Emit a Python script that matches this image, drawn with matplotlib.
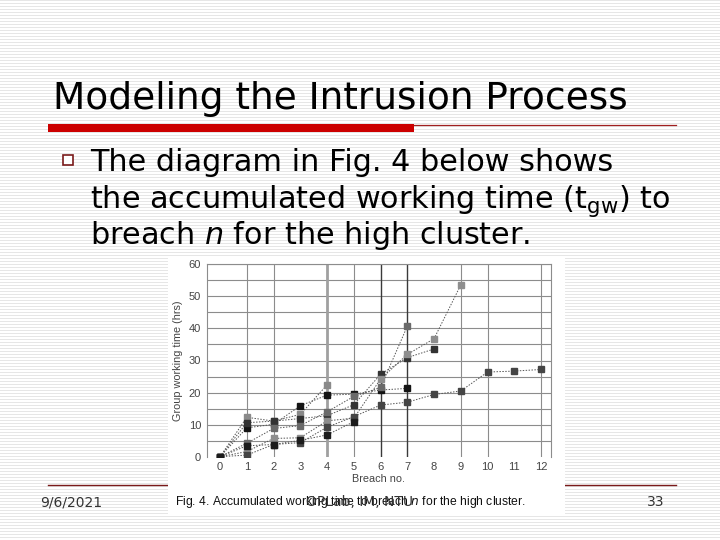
import numpy as np
import matplotlib
matplotlib.use("Agg")
import matplotlib.pyplot as plt
from matplotlib.patches import Rectangle

# ---------------- data ----------------
breach_ticks = list(range(0, 13))
y_ticks = [0, 10, 20, 30, 40, 50, 60]

s1 = [0, 9.0, 10.1, 15.9, 19.2, 19.5, 20.8, 21.3]
s2 = [0, 12.3, 11.1, 13.2, 22.4]
s3 = [0, 10.6, 11.1, 11.9, 12.8, 16.2, 25.7, 30.9, 33.6]
s4 = [0, 4.2, 8.8, 9.7, 14.0, 18.8, 21.6, 40.7]
s5 = [0, 1.6, 5.7, 5.9, 11.2, 12.0, 24.2, 31.9, 36.8, 53.6]
s6 = [0, 0.5, 3.8, 4.4, 9.2, 12.5, 16.1, 17.0, 19.4, 20.5, 26.4, 26.7, 27.2]
s7 = [0, 3.4, 3.8, 5.1, 6.8, 10.9]
series = [s1, s2, s3, s4, s5, s6, s7]
marker_colors = ["#141414", "#8a8a8a", "#333333", "#6a6a6a", "#8e8e8e", "#454545", "#1c1c1c"]

title = "Modeling the Intrusion Process"
bullet_lines = ["The diagram in Fig. 4 below shows",
                "the accumulated working time (t$_{\\mathrm{gw}}$) to",
                "breach $n$ for the high cluster."]
caption = "Fig. 4. Accumulated working time to breach $n$ for the high cluster."
footer_date = "9/6/2021"
footer_center = "OPLab, IM, NTU"
footer_page = "33"

# ---------------- figure ----------------
W, H = 720, 540
fig = plt.figure(figsize=(7.2, 5.4), dpi=100)
bg = fig.add_axes([0, 0, 1, 1])
bg.set_xlim(0, W)
bg.set_ylim(H, 0)
bg.axis("off")

# striped slide background
stripes = np.ones((H, W))
stripes[::3, :] = 0.9
bg.imshow(stripes, cmap="gray", vmin=0, vmax=1, extent=(0, W, H, 0),
          interpolation="nearest", aspect="auto", zorder=0)

# title and red rule
bg.text(53, 109, title, fontsize=27, family="DejaVu Sans", color="black",
        va="baseline", ha="left", zorder=3)
bg.add_patch(Rectangle((48, 124), 366, 7.5, facecolor="#cc0000", edgecolor="none", zorder=2))
bg.plot([414, 676], [124.5, 124.5], color="#a02020", lw=0.9, zorder=2)

# bullet
bg.add_patch(Rectangle((63, 155), 10, 10, facecolor="white", edgecolor="#7a1a1a", lw=1.2, zorder=3))
for i, line in enumerate(bullet_lines):
    bg.text(90, 171 + i * 36.5, line, fontsize=21.8, family="DejaVu Sans",
            color="black", va="baseline", ha="left", zorder=3)

# footer rule (partly hidden by the figure)
bg.plot([48, 676], [485, 485], color="#7a1a1a", lw=1.0, zorder=2)

# white figure box
bg.add_patch(Rectangle((168, 257), 397, 259, facecolor="white", edgecolor="none", zorder=4))

# caption + footer
bg.text(175, 502, caption, fontsize=8.7, family="Liberation Sans", color="#111111",
        va="center", ha="left", zorder=5)
bg.text(40, 502, footer_date, fontsize=10, family="DejaVu Sans", color="#333333",
        va="center", ha="left", zorder=5)
bg.text(360, 502, footer_center, fontsize=10, family="DejaVu Sans", color="#333333",
        va="center", ha="center", zorder=5)
bg.text(664, 502, footer_page, fontsize=10, family="DejaVu Sans", color="#333333",
        va="center", ha="right", zorder=5)

# ---------------- chart ----------------
ax = fig.add_axes([206.7 / W, 1 - 456.7 / H, (550.7 - 206.7) / W, (456.7 - 264.3) / H])
ax.set_zorder(6)
ax.patch.set_alpha(0)
ax.set_xlim(-0.5, 12.36)
ax.set_ylim(0, 60)

# grid (as in the scanned figure)
for yv in range(5, 61, 5):
    ax.axhline(yv, color="#8c8c8c", lw=0.8, zorder=1)
vgrid = {1: ("#8c8c8c", 0.8), 2: ("#8c8c8c", 0.8), 4: ("#a0a0a0", 2.0), 5: ("#8c8c8c", 0.8),
         6: ("#3a3a3a", 1.0), 7: ("#3a3a3a", 1.0), 9: ("#8c8c8c", 0.8), 10: ("#8c8c8c", 0.8),
         12: ("#8c8c8c", 0.8)}
for xv, (c, lw) in vgrid.items():
    ax.axvline(xv, color=c, lw=lw, zorder=1)

for vals, mc in zip(series, marker_colors):
    xs = list(range(len(vals)))
    ax.plot(xs, vals, color="#555555", lw=0.7, ls=(0, (1.5, 1.5)), zorder=2)
    ax.plot(xs, vals, ls="none", marker="s", markersize=3.8, markerfacecolor=mc,
            markeredgecolor=mc, zorder=3)

for side in ["top", "right", "left"]:
    ax.spines[side].set_color("#8c8c8c")
    ax.spines[side].set_linewidth(0.8)
ax.spines["bottom"].set_visible(False)

ax.set_xticks(breach_ticks)
ax.set_yticks(y_ticks)
ax.tick_params(length=0, labelsize=8, labelcolor="#444444", pad=4)
for lab in ax.get_xticklabels() + ax.get_yticklabels():
    lab.set_family("Liberation Sans")
ax.set_xlabel("Breach no.", fontsize=7.8, color="#444444", family="Liberation Sans", labelpad=1)
ax.set_ylabel("Group working time (hrs)", fontsize=7.8, color="#444444", family="Liberation Sans", labelpad=4)

fig.savefig("out.png", dpi=100)
